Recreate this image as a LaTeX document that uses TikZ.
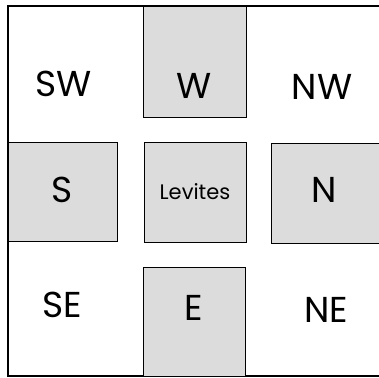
\documentclass[tikz,border=0pt]{standalone}
\usepackage{fontspec}
\setmainfont{Poppins}
\usetikzlibrary{positioning}
\definecolor{CampGray}{HTML}{DCDCDC}

\begin{document}
\begin{tikzpicture}[x=1pt, y=-1pt,
    camp/.style={draw=black, line width=0.8pt, fill=CampGray, inner sep=0pt},
    dir/.style={font=\fontsize{36}{36}\selectfont}]
    \useasboundingbox (0,0) rectangle (379,377);
    % outer frame
    \draw[line width=1.3pt] (8,6) rectangle (382,376);

    % shaded camps
    \node[camp, minimum width=103pt, minimum height=111pt] (wbox) at (194.5,61.5) {};
    \node[camp, minimum width=109pt, minimum height=99pt] (sbox) at (62.5,191.5) {};
    \node[camp, minimum width=102pt, minimum height=100pt] (levites) at (195,192) {\fontsize{21}{21}\selectfont Levites};
    \node[camp, minimum width=110pt, minimum height=100pt] (nbox) at (326,193) {};
    \node[camp, minimum width=102pt, minimum height=109pt] (ebox) at (194,321.5) {};

    % labels
    \node[dir] (sw) at (64,84) {SW};
    \node[dir] (w) at (194,86) {W};
    \node[dir] (nw) at (322,87) {NW};
    \node[dir] (s) at (62,190) {S};
    \node[dir] (n) at (324,190) {N};
    \node[dir] (se) at (62,305) {SE};
    \node[dir] (e) at (194,308) {E};
    \node[dir] (ne) at (326,310) {NE};
\end{tikzpicture}
\end{document}
